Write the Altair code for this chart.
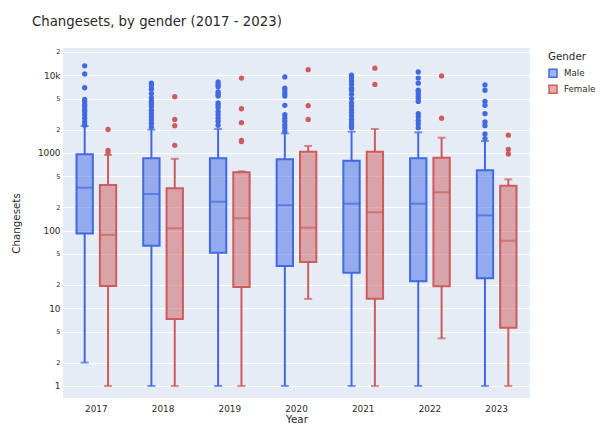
import json
import altair as alt
import pandas as pd

years = ["2017", "2018", "2019", "2020", "2021", "2022", "2023"]
genders = ["Male", "Female"]

male_lo = [2, 1, 1, 1, 1, 1, 1]
male_q1 = [92, 64, 52, 35, 28.7, 22.3, 24.3]
male_med = [357, 296, 235, 212, 222, 222, 157]
male_q3 = [960, 851, 851, 827, 794, 851, 600]
male_hi = [2220, 1990, 2030, 1780, 1880, 1840, 1420]

female_lo = [1, 1, 1, 13.2, 1, 4.1, 1]
female_q1 = [19.4, 7.3, 18.8, 39.4, 13.3, 19.2, 5.6]
female_med = [88, 107, 144, 109, 172, 311, 74]
female_q3 = [386, 350, 562, 1036, 1036, 867, 378]
female_hi = [940, 840, 580, 1230, 2030, 1570, 457]

male_out = [
    [13200, 10400, 6900, 4900, 4600, 4200, 3970, 3640, 3400, 3100, 2800, 2500, 2270],
    [7900, 7300, 6600, 5800, 5100, 4600, 4300, 3970, 3550, 3200, 2900, 2650, 2400, 2160],
    [8200, 7600, 7100, 6100, 5700, 5400, 4400, 4100, 3800, 3400, 3100, 2800, 2550, 2270],
    [9500, 6800, 6300, 5800, 5400, 4100, 3100, 2800, 2550, 2300, 2100, 1900],
    [10000, 9200, 8400, 7600, 6800, 6400, 5700, 5000, 4400, 4000, 3600, 3300, 3000, 2700, 2450, 2250, 2100],
    [11000, 9200, 7900, 6400, 5900, 5400, 5000, 4600, 3200, 2900, 2600, 2350, 2100],
    [7500, 6400, 4600, 4100, 3200, 2500, 2240, 1750, 1530],
]
female_out = [
    [2000, 1080, 1000],
    [5300, 2700, 2240, 1250],
    [9200, 3700, 2450, 1450, 1400],
    [11800, 4050, 2700],
    [12300, 7600],
    [9800, 2800],
    [1690, 1110, 970],
]

y_ticks = [1, 2, 5, 10, 20, 50, 100, 200, 500, 1000, 2000, 5000, 10000, 20000]
y_tick_labels = ["1", "2", "5", "10", "2", "5", "100", "2", "5", "1000", "2", "5", "10k", "2"]
major_ticks = [1, 10, 100, 1000, 10000]

solid = ["#4169E1", "#CD5C5C"]
faded = ["rgba(65,105,225,0.5)", "rgba(205,92,92,0.5)"]

rows = []
for i, y in enumerate(years):
    rows.append(dict(year=y, gender="Male", lo=male_lo[i], q1=male_q1[i], med=male_med[i], q3=male_q3[i], hi=male_hi[i]))
    rows.append(dict(year=y, gender="Female", lo=female_lo[i], q1=female_q1[i], med=female_med[i], q3=female_q3[i], hi=female_hi[i]))
df_box = pd.DataFrame(rows)

orows = []
for i, y in enumerate(years):
    for v in male_out[i]:
        orows.append(dict(year=y, gender="Male", v=v))
    for v in female_out[i]:
        orows.append(dict(year=y, gender="Female", v=v))
df_out = pd.DataFrame(orows)

FONT = "DejaVu Sans"
TXT = "#2a2a2a"

label_expr = "{}[indexof({}, datum.value)]".format(json.dumps(y_tick_labels), json.dumps(y_ticks))
yscale = alt.Scale(type="log", domain=[0.7, 22400], nice=False)
yaxis = alt.Axis(
    values=y_ticks,
    labelExpr=label_expr,
    labelFontSize={"condition": {"test": "indexof(%s, datum.value) >= 0" % json.dumps(major_ticks), "value": 8.9}, "value": 6.5},
    grid=True, gridColor="white", gridWidth=1,
    domain=False, ticks=False, labelPadding=3,
    title="Changesets", titleFontSize=10.3, titlePadding=16, titleFontWeight="normal",
)
xaxis = alt.Axis(labelAngle=0, domain=False, ticks=False, grid=False, labelPadding=6,
                 labelFontSize=8.9, title="Year", titleFontSize=10.3, titlePadding=2,
                 titleFontWeight="normal")

xenc = alt.X("year:N", scale=alt.Scale(domain=years, paddingInner=0.3, paddingOuter=0.15), axis=xaxis)
xoff = alt.XOffset("gender:N", scale=alt.Scale(domain=genders, paddingInner=0.3, paddingOuter=0.15))
leg = alt.Legend(title="Gender", orient="none", legendX=485, legendY=4, titleFontSize=10.3,
                 titleFontWeight="normal", labelFontSize=8.7, symbolSize=64, symbolStrokeWidth=1.5,
                 symbolOffset=0, labelOffset=6, titlePadding=6, rowPadding=2, padding=0,
                 symbolType="square", labelLimit=200)
color_solid = alt.Color("gender:N", scale=alt.Scale(domain=genders, range=solid), legend=None)
stroke_solid = alt.Stroke("gender:N", scale=alt.Scale(domain=genders, range=solid), legend=leg)
fill_faded = alt.Fill("gender:N", scale=alt.Scale(domain=genders, range=faded), legend=leg)

base = alt.Chart(df_box)

whisk_lo = base.mark_rule(strokeWidth=2).encode(
    x=xenc, xOffset=xoff, y=alt.Y("lo:Q", scale=yscale, axis=yaxis), y2="q1:Q", stroke=stroke_solid)
whisk_hi = base.mark_rule(strokeWidth=2).encode(
    x=xenc, xOffset=xoff, y=alt.Y("q3:Q", scale=yscale, axis=yaxis), y2="hi:Q", stroke=stroke_solid)
box = base.mark_bar(strokeWidth=2).encode(
    x=xenc, xOffset=xoff, y=alt.Y("q1:Q", scale=yscale, axis=yaxis), y2="q3:Q",
    fill=fill_faded, stroke=stroke_solid)
median = base.mark_tick(thickness=2, size=16).encode(
    x=xenc, xOffset=xoff, y=alt.Y("med:Q", scale=yscale, axis=yaxis), color=color_solid)
cap_lo = base.mark_tick(thickness=2, size=8).encode(
    x=xenc, xOffset=xoff, y=alt.Y("lo:Q", scale=yscale, axis=yaxis), color=color_solid)
cap_hi = base.mark_tick(thickness=2, size=8).encode(
    x=xenc, xOffset=xoff, y=alt.Y("hi:Q", scale=yscale, axis=yaxis), color=color_solid)
outl = alt.Chart(df_out).mark_circle(size=28, opacity=1).encode(
    x=xenc, xOffset=xoff, y=alt.Y("v:Q", scale=yscale, axis=yaxis), color=color_solid)

chart = alt.layer(whisk_lo, whisk_hi, box, median, cap_lo, cap_hi, outl).properties(
    width=467, height=350,
    title=alt.TitleParams("Changesets, by gender (2017 - 2023)", anchor="start", frame="group",
                          dx=-31, offset=20, fontSize=13.3, fontWeight="normal", font=FONT, color=TXT),
    autosize=alt.AutoSizeParams(type="none"),
    padding={"left": 55, "top": 40, "right": 67, "bottom": 28},
).configure_view(fill="#E5ECF6", stroke=None).configure_axis(
    labelFont=FONT, titleFont=FONT, labelColor=TXT, titleColor=TXT
).configure_legend(labelFont=FONT, titleFont=FONT, labelColor=TXT, titleColor=TXT)

chart.save("out.html", embed_options={"renderer": "svg", "actions": False})
